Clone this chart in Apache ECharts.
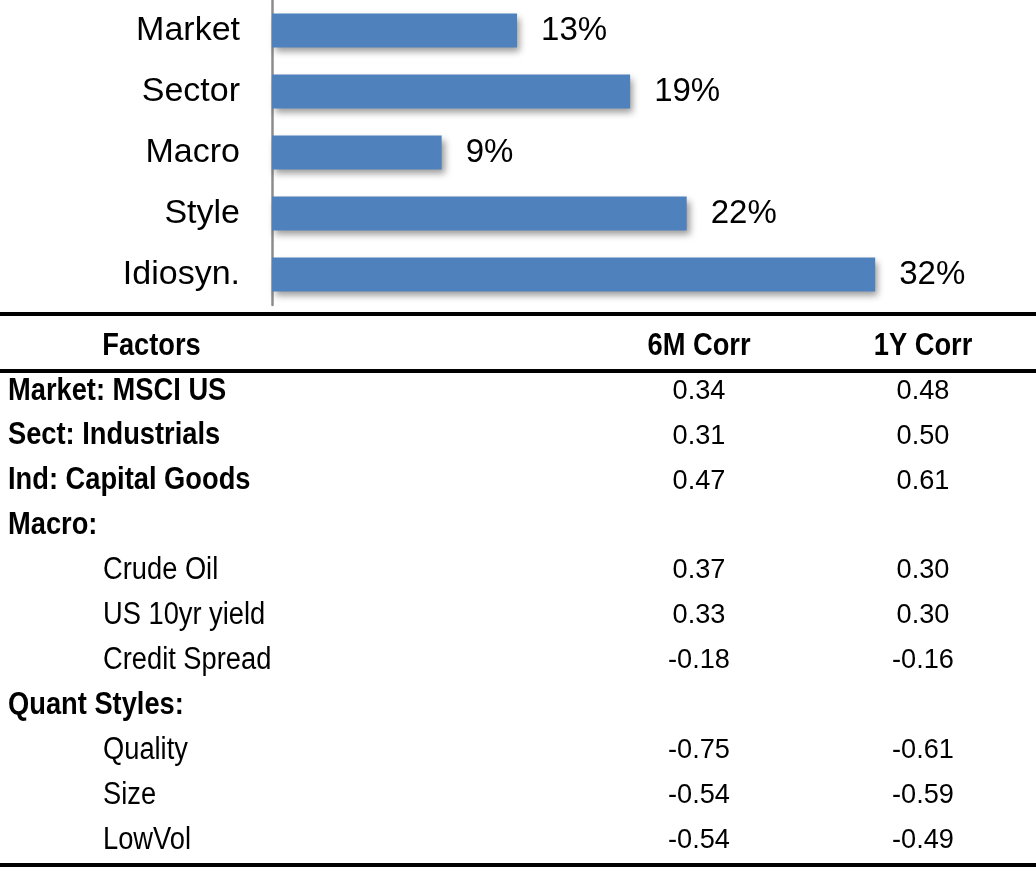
<!DOCTYPE html>
<html><head><meta charset="utf-8">
<script src="https://cdn.jsdelivr.net/npm/echarts@6/dist/echarts.min.js"></script>
<style>html,body{margin:0;padding:0;background:#fff}#c{width:1036px;height:870px}</style>
</head><body><div id="c"></div>
<script>
const categories = ['Market', 'Sector', 'Macro', 'Style', 'Idiosyn.'];
const shares = [13, 19, 9, 22, 32];

const headerLabels = ['Factors', '6M Corr', '1Y Corr'];
const rowLabels = ['Market: MSCI US', 'Sect: Industrials', 'Ind: Capital Goods', 'Macro:', 'Crude Oil', 'US 10yr yield', 'Credit Spread', 'Quant Styles:', 'Quality', 'Size', 'LowVol'];
const rowIsGroup = [true, true, true, true, false, false, false, true, false, false, false];
const corr6M = [0.34, 0.31, 0.47, null, 0.37, 0.33, -0.18, null, -0.75, -0.54, -0.54];
const corr1Y = [0.48, 0.50, 0.61, null, 0.30, 0.30, -0.16, null, -0.61, -0.59, -0.49];

const FONT = "'Liberation Sans',Arial,sans-serif";
const chart = echarts.init(document.getElementById('c'), null, {renderer: 'canvas'});

const graphic = [];
function hline(y, w) {
  graphic.push({type: 'rect', shape: {x: 0, y: y, width: 1036, height: w}, style: {fill: '#000'}, silent: true});
}
function txt(t, x, y, font, align, sx) {
  graphic.push({type: 'text', x: x, y: y, scaleX: sx, originX: 0, originY: 0,
    style: {text: t, font: font, fill: '#000', align: align, verticalAlign: 'middle'}});
}
hline(312, 4);
hline(369, 4);
hline(863, 4);
const colX = [151.5, 699, 923];
headerLabels.forEach((t, i) => txt(t, colX[i], 346, 'bold 31px ' + FONT, 'center', 0.88));
const rowY0 = 391, rowStep = 44.9;
rowLabels.forEach((t, i) => {
  const y = rowY0 + i * rowStep;
  txt(t, rowIsGroup[i] ? 8 : 103, y, (rowIsGroup[i] ? 'bold ' : '') + '31px ' + FONT, 'left', 0.88);
  if (corr6M[i] !== null) txt(corr6M[i].toFixed(2), colX[1], y, '28px ' + FONT, 'center', 0.97);
  if (corr1Y[i] !== null) txt(corr1Y[i].toFixed(2), colX[2], y, '28px ' + FONT, 'center', 0.97);
});

chart.setOption({
  animation: false,
  backgroundColor: '#fff',
  grid: {left: 272, top: 0, width: 754, height: 305, containLabel: false},
  xAxis: {type: 'value', min: 0, max: 40, show: false},
  yAxis: {
    type: 'category', data: categories, inverse: true,
    axisLine: {show: true, lineStyle: {color: '#8c8c8c', width: 2.5}},
    axisTick: {show: false},
    axisLabel: {margin: 32, color: '#000', fontSize: 34, fontFamily: FONT}
  },
  series: [{
    type: 'bar', data: shares, barWidth: 34,
    itemStyle: {color: '#4F81BD', shadowColor: 'rgba(0,0,0,0.4)', shadowBlur: 7, shadowOffsetX: 3, shadowOffsetY: 4},
    label: {show: true, position: 'right', distance: 24, formatter: '{c}%', color: '#000', fontSize: 33, fontFamily: FONT}
  }],
  graphic: graphic
});
</script></body></html>
